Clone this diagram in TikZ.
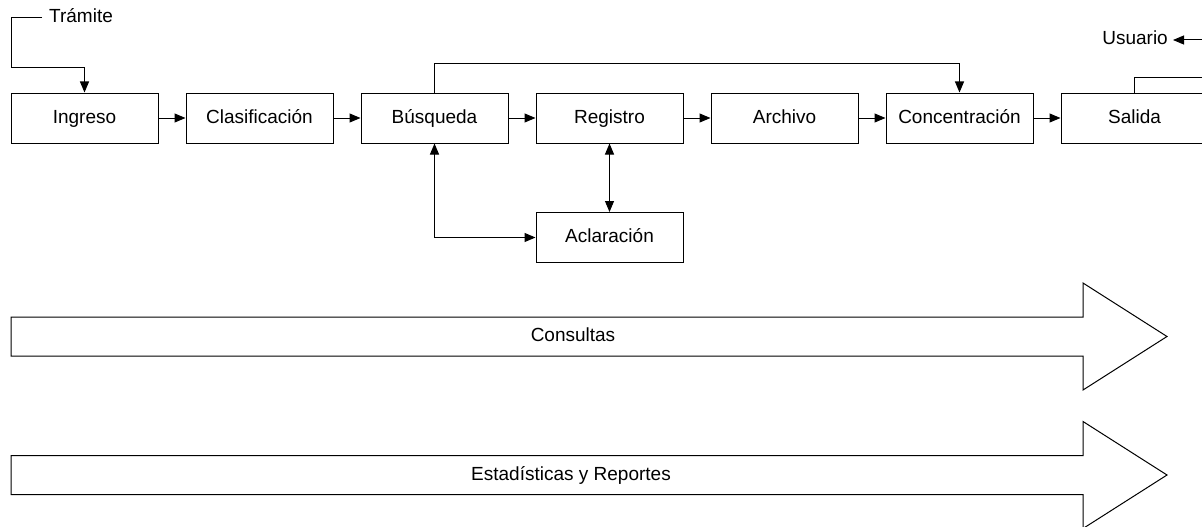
\documentclass[tikz,border=0pt]{standalone}
\usepackage{fontspec}
\setmainfont{Liberation Sans}
\usetikzlibrary{arrows.meta, positioning}

\tikzset{
  box/.style={draw, line width=1pt, minimum width=147pt, minimum height=50pt,
              inner sep=0pt, text height=14pt, text depth=4pt,
              font=\fontsize{19}{22}\selectfont},
  txt/.style={inner sep=0pt, text height=14pt, text depth=4pt,
              font=\fontsize{19}{22}\selectfont},
  flow/.style={line width=1pt, -{Triangle[length=11pt,width=9pt]}},
  flowboth/.style={line width=1pt, {Triangle[length=11pt,width=9pt]}-{Triangle[length=11pt,width=9pt]}},
  bigarrow/.style={draw, line width=1pt, line join=miter}
}

\begin{document}
\begin{tikzpicture}[x=1pt, y=-1pt]
    \useasboundingbox (0,0) rectangle (1202,527);
    \clip (0,0) rectangle (1202,527);

    % Process boxes (one row)
    \foreach \name/\lbl [count=\i from 0] in {ingreso/Ingreso, clasif/Clasificación,
        busqueda/Búsqueda, registro/Registro, archivo/Archivo,
        concent/Concentración, salida/Salida}{
        \node[box] (\name) at (84.5+175*\i,118) {\lbl};
    }
    \node[box] (aclaracion) at (609.5,237.5) {Aclaración};

    % Flow along the row
    \foreach \a/\b in {ingreso/clasif, clasif/busqueda, busqueda/registro,
        registro/archivo, archivo/concent, concent/salida}{
        \draw[flow] (\a.east) -- (\b.west);
    }

    % Input and output
    \node[txt, anchor=west, inner xsep=7pt] (tramite) at (42,18) {Trámite};
    \draw[flow] (tramite.west) -| (11,68) -| (ingreso.north);
    \node[txt, anchor=east, inner xsep=5pt] (usuario) at (1173,40) {Usuario};
    \coordinate (usrin) at (1210,40);
    \coordinate (salout) at (1210,78);
    \draw[flow] (usrin) -- (usuario.east);
    \draw[line width=1pt] (salida.north) |- (salout);

    % Side paths
    \draw[flow] (busqueda.north) -- ++(0,-29) -| (concent.north);
    \draw[flowboth] (busqueda.south) |- (aclaracion.west);
    \draw[flowboth] (registro.south) -- (aclaracion.north);

    % Wide arrows
    \foreach \y/\name/\xt/\lbl in {336.5/consultas/573/Consultas,
        475/estad/571/Estadísticas y Reportes}{
        \draw[bigarrow] (11,\y-19.5) -- (1083,\y-19.5) -- (1083,\y-53.5)
            -- (1167,\y) -- (1083,\y+53.5) -- (1083,\y+19.5) -- (11,\y+19.5) -- cycle;
        \node[txt] (\name) at (\xt,\y) {\lbl};
    }
\end{tikzpicture}
\end{document}
